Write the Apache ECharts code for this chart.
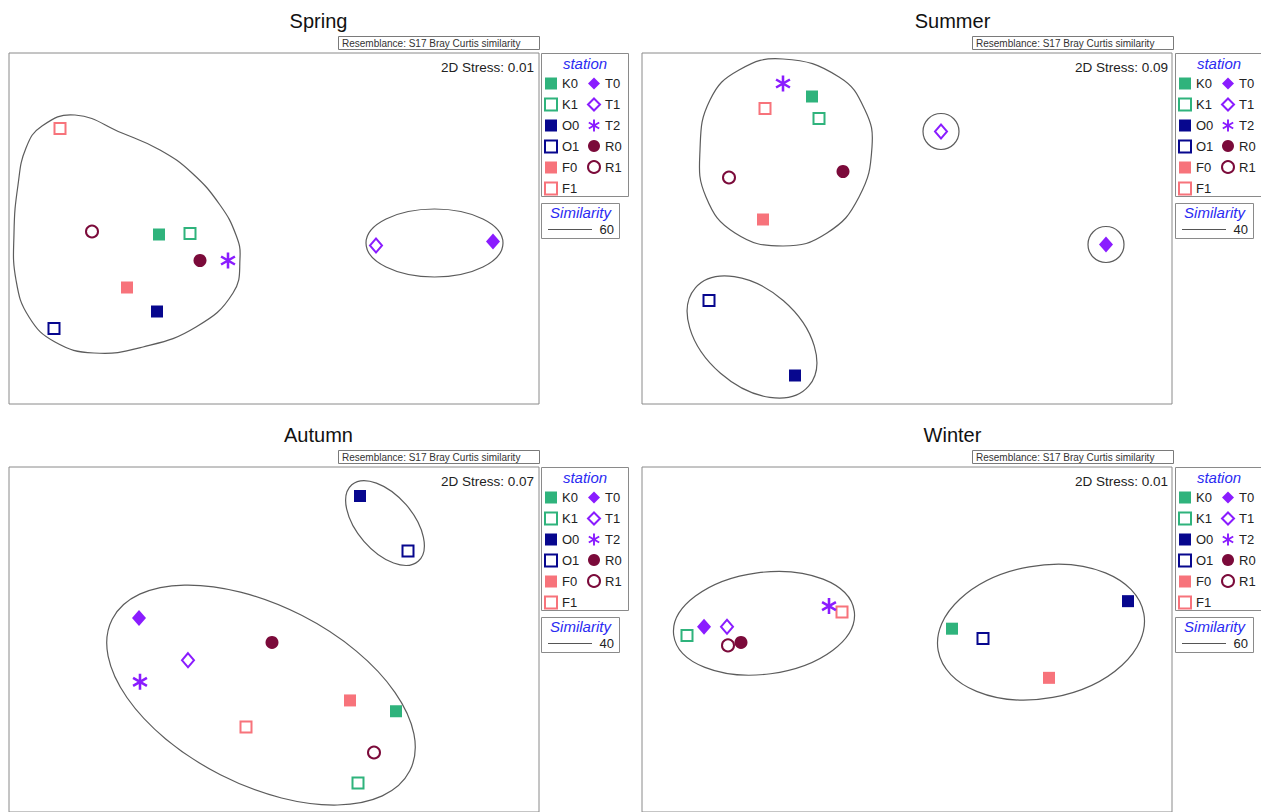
<!DOCTYPE html>
<html>
<head>
<meta charset="utf-8">
<script src="https://cdn.jsdelivr.net/npm/echarts@6/dist/echarts.min.js"></script>
<style>
  html, body { margin: 0; padding: 0; background: #fff; }
  #chart { width: 1261px; height: 812px; }
</style>
</head>
<body>
<div id="chart"></div>
<script>
// ---- data ---------------------------------------------------------------
const seasons = ['Spring', 'Summer', 'Autumn', 'Winter'];
const stations = ['K0', 'K1', 'O0', 'O1', 'F0', 'F1', 'T0', 'T1', 'T2', 'R0', 'R1'];
const stressValues = ['0.01', '0.09', '0.07', '0.01'];
const similarityLevels = ['60', '40', '40', '60'];
const resemblanceLabel = 'Resemblance: S17 Bray Curtis similarity';

// nMDS coordinates, one [x, y] per station in the order of `stations`
const springPoints = [[-1.15, -0.06], [-0.84, -0.05], [-1.17, -0.83], [-2.20, -1.00], [-1.47, -0.59], [-2.14, 1.00],
                      [2.19, -0.13], [1.02, -0.17], [-0.46, -0.32], [-0.74, -0.32], [-1.82, -0.03]];
const summerPoints = [[-0.95, 1.32], [-0.88, 1.10], [-1.12, -1.47], [-1.98, -0.72], [-1.44, 0.09], [-1.42, 1.20],
                      [1.99, -0.16], [0.34, 0.97], [-1.24, 1.45], [-0.64, 0.57], [-1.78, 0.51]];
const autumnPoints = [[1.22, -0.73], [0.84, -1.46], [0.86, 1.46], [1.34, 0.90], [0.76, -0.62], [-0.28, -0.89],
                      [-1.35, 0.22], [-0.86, -0.21], [-1.34, -0.43], [-0.02, -0.03], [1.00, -1.15]];
const winterPoints = [[0.45, 0.11], [-2.20, 0.04], [2.21, 0.39], [0.76, 0.01], [1.42, -0.39], [-0.65, 0.28],
                      [-2.03, 0.13], [-1.80, 0.13], [-0.78, 0.34], [-1.66, -0.03], [-1.79, -0.06]];

// similarity contours: ellipses as [cx, cy, rx, ry, angle in degrees]
const springEllipses = [[1.605, -0.145, 0.685, 0.34, 0]];
const summerEllipses = [[-1.55, -1.085, 0.75, 0.48, -41], [0.34, 0.97, 0.18, 0.18, 0], [1.99, -0.16, 0.18, 0.18, 0]];
const autumnEllipses = [[1.11, 1.185, 0.506, 0.284, -49], [-0.13, -0.565, 1.67, 0.91, -27]];
const winterEllipses = [[-1.43, 0.165, 0.911, 0.518, 7.5], [1.34, 0.075, 1.045, 0.675, 10.2]];

// free-form contour outlines, rings of [x, y]
const springOutline = [[-1.99, 1.135], [-1.52, 0.955], [-1.14, 0.785], [-0.82, 0.555], [-0.54, 0.235], [-0.38, -0.065],
                       [-0.34, -0.295], [-0.41, -0.645], [-0.78, -0.985], [-1.31, -1.185], [-1.80, -1.245], [-2.19, -1.135],
                       [-2.45, -0.885], [-2.58, -0.515], [-2.60, -0.045], [-2.56, 0.435], [-2.48, 0.805], [-2.32, 1.025]];
const summerOutline = [[-1.24, 1.695], [-0.68, 1.515], [-0.42, 1.185], [-0.35, 0.815], [-0.48, 0.315], [-0.80, -0.045],
                       [-1.24, -0.175], [-1.72, -0.045], [-2.01, 0.315], [-2.07, 0.785], [-1.97, 1.285], [-1.68, 1.585]];

const seasonPoints = [springPoints, summerPoints, autumnPoints, winterPoints];
const seasonEllipses = [springEllipses, summerEllipses, autumnEllipses, winterEllipses];
const seasonOutlines = [[springOutline], [summerOutline], [], []];

// ---- styling ------------------------------------------------------------
const FONT = '"Liberation Sans", Arial, Helvetica, sans-serif';
const GREEN = '#2fb37c', NAVY = '#07078e', SALMON = '#f7737b', PURPLE = '#8a1cff', MAROON = '#7b0a3a';
// six-armed asterisk built from three bars
const ASTERISK = 'path://M-0.16,-1L0.16,-1L0.16,1L-0.16,1Z' +
                 'M-0.946,-0.361L-0.786,-0.639L0.946,0.361L0.786,0.639Z' +
                 'M-0.786,0.639L-0.946,0.361L0.786,-0.639L0.946,-0.361Z';
const markerStyle = {
  K0: { symbol: 'rect', color: GREEN, hollow: false, size: 12 },
  K1: { symbol: 'rect', color: GREEN, hollow: true, size: 11 },
  O0: { symbol: 'rect', color: NAVY, hollow: false, size: 12 },
  O1: { symbol: 'rect', color: NAVY, hollow: true, size: 11 },
  F0: { symbol: 'rect', color: SALMON, hollow: false, size: 12 },
  F1: { symbol: 'rect', color: SALMON, hollow: true, size: 11 },
  T0: { symbol: 'diamond', color: PURPLE, hollow: false, size: [14, 16] },
  T1: { symbol: 'diamond', color: PURPLE, hollow: true, size: [12, 14] },
  T2: { symbol: ASTERISK, color: PURPLE, hollow: false, size: 16 },
  R0: { symbol: 'circle', color: MAROON, hollow: false, size: 13 },
  R1: { symbol: 'circle', color: MAROON, hollow: true, size: 12 }
};

// panel placement
const gridLeft = [9, 642, 9, 642];
const gridTop = [53, 53, 467, 467];
const offX = [0, 634, 0, 634];
const offY = [0, 0, 414, 414];

const grids = [], xAxes = [], yAxes = [], series = [], legends = [], graphics = [];

seasons.forEach((season, p) => {
  grids.push({ left: gridLeft[p], top: gridTop[p], width: 530, height: 351,
               show: true, borderColor: '#8a8a8a', borderWidth: 1, backgroundColor: '#fff' });
  xAxes.push({ gridIndex: p, type: 'value', min: -2.65, max: 2.65, show: false });
  yAxes.push({ gridIndex: p, type: 'value', min: -1.755, max: 1.755, show: false });

  // ellipse contours
  series.push({
    type: 'custom', xAxisIndex: p, yAxisIndex: p, silent: true, z: 1,
    data: seasonEllipses[p],
    renderItem: (params, api) => {
      const c = api.coord([api.value(0), api.value(1)]);
      const s = api.size([api.value(2), api.value(3)]);
      return {
        type: 'ellipse', x: c[0], y: c[1], rotation: api.value(4) * Math.PI / 180,
        shape: { cx: 0, cy: 0, rx: s[0], ry: s[1] },
        style: { fill: 'none', stroke: '#5c5c5c', lineWidth: 1.2 }
      };
    }
  });

  // free-form contours
  seasonOutlines[p].forEach(ring => {
    series.push({
      type: 'custom', xAxisIndex: p, yAxisIndex: p, silent: true, z: 1,
      data: ring,
      renderItem: (params, api) => {
        if (params.dataIndex !== 0) return null;
        return {
          type: 'polygon',
          shape: { points: ring.map(pt => api.coord(pt)), smooth: 0.45 },
          style: { fill: 'none', stroke: '#5c5c5c', lineWidth: 1.2 }
        };
      }
    });
  });

  // station markers
  stations.forEach((st, i) => {
    const m = markerStyle[st];
    series.push({
      type: 'scatter', name: st, xAxisIndex: p, yAxisIndex: p, z: 3, silent: true,
      symbol: m.symbol, symbolSize: m.size, symbolKeepAspect: true,
      data: [seasonPoints[p][i]],
      itemStyle: m.hollow
        ? { color: '#ffffff', borderColor: m.color, borderWidth: 2, opacity: 1 }
        : { color: m.color, borderWidth: 0, opacity: 1 },
      emphasis: { disabled: true }
    });
  });

  const dx = offX[p], dy = offY[p];

  // legend, two columns
  const legendBase = {
    orient: 'vertical', top: 77 + dy, itemWidth: 12, itemHeight: 12, itemGap: 7.5, padding: 0,
    selectedMode: false, textStyle: { fontSize: 13, color: '#222', fontFamily: FONT }
  };
  legends.push(Object.assign({}, legendBase, { left: 544 + dx, data: stations.slice(0, 6) }));
  legends.push(Object.assign({}, legendBase, { left: 587 + dx, data: stations.slice(6) }));

  // titles and boxes
  graphics.push(
    { type: 'text', x: 318.5 + dx, y: 21 + dy,
      style: { text: season, font: `20px ${FONT}`, fill: '#111', textAlign: 'center', textVerticalAlign: 'middle' } },
    { type: 'rect', shape: { x: 338.5 + dx, y: 36.5 + dy, width: 201, height: 13 },
      style: { fill: '#fff', stroke: '#7a7a7a', lineWidth: 1 } },
    { type: 'text', x: 342 + dx, y: 43 + dy,
      style: { text: resemblanceLabel, font: `10px ${FONT}`, fill: '#333', textAlign: 'left', textVerticalAlign: 'middle' } },
    { type: 'text', x: 534 + dx, y: 67 + dy, z: 10,
      style: { text: '2D Stress: ' + stressValues[p], font: `13.5px ${FONT}`, fill: '#222', textAlign: 'right', textVerticalAlign: 'middle' } },
    { type: 'rect', shape: { x: 541.5 + dx, y: 53.5 + dy, width: 87, height: 143 },
      style: { fill: 'none', stroke: '#8a8a8a', lineWidth: 1 } },
    { type: 'text', x: 585 + dx, y: 63 + dy,
      style: { text: 'station', font: `italic 15px ${FONT}`, fill: '#2b2bf2', textAlign: 'center', textVerticalAlign: 'middle' } },
    { type: 'rect', shape: { x: 541.5 + dx, y: 203.5 + dy, width: 78, height: 35 },
      style: { fill: 'none', stroke: '#8a8a8a', lineWidth: 1 } },
    { type: 'text', x: 580.5 + dx, y: 212 + dy,
      style: { text: 'Similarity', font: `italic 15px ${FONT}`, fill: '#2b2bf2', textAlign: 'center', textVerticalAlign: 'middle' } },
    { type: 'line', shape: { x1: 548 + dx, y1: 229.5 + dy, x2: 592 + dx, y2: 229.5 + dy },
      style: { stroke: '#555', lineWidth: 1 } },
    { type: 'text', x: 614 + dx, y: 229 + dy,
      style: { text: similarityLevels[p], font: `13px ${FONT}`, fill: '#222', textAlign: 'right', textVerticalAlign: 'middle' } }
  );
});

const chart = echarts.init(document.getElementById('chart'), null, { renderer: 'svg' });
chart.setOption({
  backgroundColor: '#fff',
  animation: false,
  grid: grids,
  xAxis: xAxes,
  yAxis: yAxes,
  legend: legends,
  graphic: graphics,
  series: series
});
</script>
</body>
</html>
